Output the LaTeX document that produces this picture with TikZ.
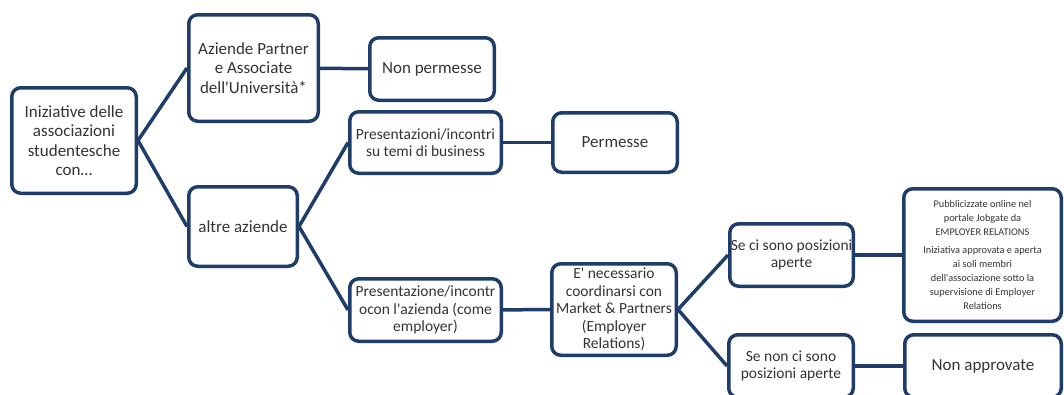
\documentclass[tikz,border=0pt]{standalone}
\usepackage{fontspec}
\setmainfont{Carlito}
\definecolor{navy}{HTML}{1F3D6B}
\newcommand{\apo}{\textquotesingle}

\begin{document}
\begin{tikzpicture}[x=1pt, y=-1pt, thick,
  main/.style = {draw=navy, line width=3.5pt, rounded corners=9pt, align=center, text=black!80, inner sep=1pt, font=\fontsize{17}{19.5}\selectfont},
  small/.style = {font=\fontsize{15.5}{17.5}\selectfont},
  link/.style = {navy, line width=3.5pt}]
\useasboundingbox (0,0) rectangle (1064,394);

\node[main, minimum width=124.5pt, minimum height=105.5pt] (ini) at (74,140.5) {Iniziative delle\\associazioni\\studentesche\\con…};
\node[main, minimum width=129.5pt, minimum height=106.5pt] (partner) at (253.5,68) {Aziende Partner\\e Associate\\dell\apo Università*};
\node[main, minimum width=124.5pt, minimum height=62.5pt] (nonperm) at (432,69) {Non permesse};
\node[main, minimum width=108.5pt, minimum height=79.5pt] (altre) at (243,226.5) {altre aziende};
\node[main, small, minimum width=151.5pt, minimum height=61.5pt] (temi) at (425.5,142.5) {Presentazioni/incontri\\su temi di business};
\node[main, minimum width=124.5pt, minimum height=59.5pt] (perm) at (615,142.5) {Permesse};
\node[main, small, minimum width=151.5pt, minimum height=62.5pt] (employer) at (425.5,310) {Presentazione/incontr\\ocon l\apo azienda (come\\employer)};
\node[main, small, minimum width=124.5pt, minimum height=91.5pt] (coord) at (614,309.5) {E\apo{} necessario\\coordinarsi con\\Market \& Partners\\(Employer\\Relations)};
\node[main, small, minimum width=123.5pt, minimum height=62.5pt] (sici) at (791.5,255) {Se ci sono posizioni\\aperte};
\node[main, minimum width=157.5pt, minimum height=132.5pt, font=\fontsize{10.3}{14}\selectfont] (pubbl) at (982.5,255) {Pubblicizzate online nel\\portale Jobgate da\\EMPLOYER RELATIONS\\[4pt]Iniziativa approvata e aperta\\ai soli membri\\dell\apo associazione sotto la\\supervisione di Employer\\Relations};
\node[main, small, minimum width=124.5pt, minimum height=62.5pt] (sinon) at (791,366) {Se non ci sono\\posizioni aperte};
\node[main, minimum width=156.5pt, minimum height=62.5pt] (nonappr) at (983,366) {Non approvate};

\draw[link] (ini.east) -- (partner.west);
\draw[link] (ini.east) -- (altre.west);
\draw[link] (partner) -- (nonperm);
\draw[link] (altre.east) -- (temi.west);
\draw[link] (altre.east) -- (employer.west);
\draw[link] (temi) -- (perm);
\draw[link] (employer) -- (coord);
\draw[link] (coord.east) -- (sici.west);
\draw[link] (coord.east) -- (sinon.west);
\draw[link] (sici) -- (pubbl);
\draw[link] (sinon) -- (nonappr);
\end{tikzpicture}
\end{document}
